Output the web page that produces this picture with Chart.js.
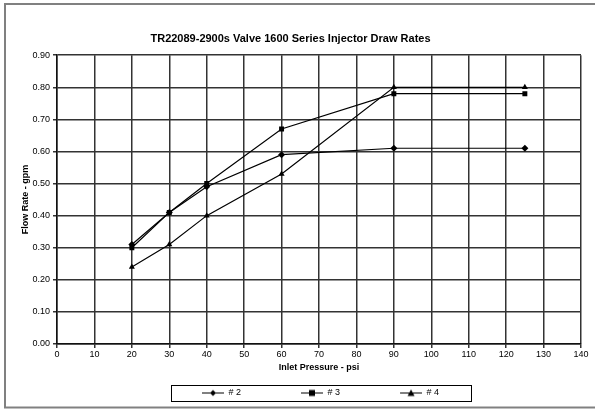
<!DOCTYPE html>
<html>
<head>
<meta charset="utf-8">
<script src="https://cdn.jsdelivr.net/npm/chart.js@4.4.1/dist/chart.umd.min.js"></script>
<style>
  html, body { margin: 0; padding: 0; background: #fff; }
  #wrap { width: 595px; height: 409px; }
</style>
</head>
<body>
<div id="wrap"><canvas id="c" width="595" height="409"></canvas></div>
<script>
const titleText = 'TR22089-2900s Valve 1600 Series Injector Draw Rates';
const xTitle = 'Inlet Pressure - psi';
const yTitle = 'Flow Rate - gpm';
const pressures = [20, 30, 40, 60, 90, 125];
const series2 = [0.31, 0.41, 0.49, 0.59, 0.61, 0.61];
const series3 = [0.30, 0.41, 0.50, 0.67, 0.78, 0.78];
const series4 = [0.24, 0.31, 0.40, 0.53, 0.80, 0.80];
const seriesNames = ['# 2', '# 3', '# 4'];
const seriesStyles = ['rectRot', 'rect', 'triangle'];
const xMin = 0, xMax = 140, xStep = 10;
const yMin = 0, yMax = 0.9, yStep = 0.1;

const FONT = "'Liberation Sans', Arial, sans-serif";

function toPoints(vals) { return pressures.map((p, i) => ({ x: p, y: vals[i] })); }

function markerPath(ctx, style, cx, cy, r) {
  ctx.beginPath();
  if (style === 'rectRot') {
    ctx.moveTo(cx, cy - r); ctx.lineTo(cx + r, cy); ctx.lineTo(cx, cy + r); ctx.lineTo(cx - r, cy);
  } else if (style === 'rect') {
    ctx.rect(cx - r, cy - r, 2 * r, 2 * r);
  } else {
    ctx.moveTo(cx, cy - r - 0.5); ctx.lineTo(cx + r + 0.5, cy + r); ctx.lineTo(cx - r - 0.5, cy + r);
  }
  ctx.closePath();
  ctx.fill();
}

const LEG_W = 82;
function legendImage(style) {
  const cv = document.createElement('canvas');
  cv.width = LEG_W; cv.height = 9;
  const g = cv.getContext('2d');
  g.strokeStyle = '#000'; g.fillStyle = '#000'; g.lineWidth = 1;
  g.beginPath(); g.moveTo(60, 4.5); g.lineTo(82, 4.5); g.stroke();
  markerPath(g, style, 71, 4.5, 3);
  return cv;
}
const legendImages = seriesStyles.map(legendImage);

const framePlugin = {
  id: 'frame',
  beforeDraw(chart) {
    const ctx = chart.ctx;
    ctx.save();
    ctx.fillStyle = '#fff';
    ctx.fillRect(0, 0, chart.width, chart.height);
    ctx.strokeStyle = '#808080';
    ctx.lineWidth = 2;
    ctx.strokeRect(5, 4, 600, 403.5);
    ctx.restore();
  },
  afterDraw(chart) {
    const lg = chart.legend;
    if (!lg || !lg.legendHitBoxes || !lg.legendHitBoxes.length) return;
    const hb = lg.legendHitBoxes;
    const first = hb[0], last = hb[hb.length - 1];
    const left = first.left + 29;
    const right = last.left + last.width + 32;
    const top = lg.top - 3.5;
    const ctx = chart.ctx;
    ctx.save();
    ctx.strokeStyle = '#000';
    ctx.lineWidth = 1;
    ctx.strokeRect(Math.round(left) + 0.5, Math.round(top) + 0.5, Math.round(right - left), 16);
    ctx.restore();
  }
};

const datasets = [series2, series3, series4].map((vals, i) => ({
  label: seriesNames[i],
  data: toPoints(vals),
  borderColor: '#000',
  backgroundColor: '#000',
  borderWidth: 1.2,
  pointStyle: seriesStyles[i],
  pointRadius: 3.5,
  pointBorderWidth: 0,
  showLine: true,
  tension: 0
}));

new Chart(document.getElementById('c'), {
  type: 'scatter',
  data: { datasets },
  plugins: [framePlugin],
  options: {
    responsive: false,
    animation: false,
    devicePixelRatio: 1,
    layout: { padding: { left: 0, right: 14, top: 0, bottom: 1.5 } },
    plugins: {
      tooltip: { enabled: false },
      title: {
        display: true,
        text: titleText,
        color: '#000',
        font: { family: FONT, size: 11, weight: 'bold' },
        padding: { top: 32, bottom: 10 }
      },
      legend: {
        display: true,
        position: 'bottom',
        align: 'center',
        labels: {
          usePointStyle: true,
          pointStyleWidth: LEG_W,
          boxHeight: 9,
          padding: 0,
          color: '#000',
          font: { family: FONT, size: 9 },
          generateLabels: () => seriesNames.map((n, i) => ({
            text: n,
            pointStyle: legendImages[i],
            fillStyle: '#000',
            strokeStyle: '#000',
            fontColor: '#000',
            lineWidth: 0,
            hidden: false,
            datasetIndex: i
          }))
        }
      }
    },
    scales: {
      x: {
        type: 'linear',
        min: xMin, max: xMax,
        afterFit(s) { s.height = 44.5; },
        ticks: { stepSize: xStep, color: '#000', padding: 1, maxRotation: 0,
                 font: { family: FONT, size: 9 } },
        grid: { color: '#333', lineWidth: 1.5, tickLength: 4, drawTicks: true },
        border: { display: true, color: '#111', width: 1.5 },
        title: { display: true, text: xTitle, color: '#000',
                 font: { family: FONT, size: 9, weight: 'bold' },
                 padding: { top: 0, bottom: 16 } }
      },
      y: {
        type: 'linear',
        min: yMin, max: yMax,
        afterFit(s) { s.width = 57; },
        ticks: { stepSize: yStep, color: '#000', padding: 3,
                 font: { family: FONT, size: 9 },
                 callback: v => Number(v).toFixed(2) },
        grid: { color: '#333', lineWidth: 1.5, tickLength: 4, drawTicks: true },
        border: { display: true, color: '#111', width: 1.5 },
        title: { display: true, text: yTitle, color: '#000',
                 font: { family: FONT, size: 9, weight: 'bold' },
                 padding: { top: 20, bottom: 0 } }
      }
    }
  }
});
</script>
</body>
</html>
